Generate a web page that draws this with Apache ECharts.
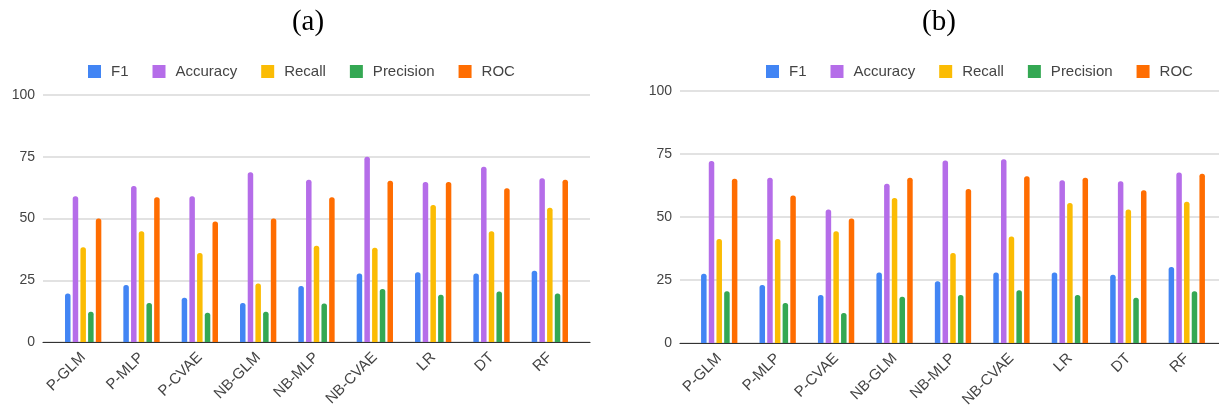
<!DOCTYPE html>
<html>
<head>
<meta charset="utf-8">
<script src="https://cdn.jsdelivr.net/npm/echarts@6/dist/echarts.min.js"></script>
<style>
  html, body { margin: 0; padding: 0; background: #fff; }
  #chart { width: 1219px; height: 410px; }
</style>
</head>
<body>
<div id="chart"></div>
<script>
// 数据
const categories = ['P-GLM', 'P-MLP', 'P-CVAE', 'NB-GLM', 'NB-MLP', 'NB-CVAE', 'LR', 'DT', 'RF']
const seriesNames = ['F1', 'Accuracy', 'Recall', 'Precision', 'ROC']
const yTicks = [0, 25, 50, 75, 100]

// (a)
const f1A = [19.6, 23.1, 17.9, 15.8, 22.7, 27.7, 28.2, 27.7, 28.8]
const accuracyA = [59, 63.2, 59, 68.7, 65.7, 75, 64.8, 71, 66.3]
const recallA = [38.4, 44.8, 36, 23.7, 39, 38.2, 55.5, 44.8, 54.4]
const precisionA = [12.2, 15.8, 11.8, 12.2, 15.6, 21.5, 19.1, 20.4, 19.6]
const rocA = [50, 58.6, 48.8, 50, 58.6, 65.3, 64.8, 62.2, 65.7]

// (b)
const f1B = [27.5, 23, 19, 28, 24.5, 28, 28, 27.1, 30.2]
const accuracyB = [72.2, 65.6, 53, 63.2, 72.4, 72.9, 64.6, 64.2, 67.7]
const recallB = [41.3, 41.3, 44.3, 57.5, 35.7, 42.3, 55.6, 53, 56.1]
const precisionB = [20.5, 15.9, 11.9, 18.4, 19, 20.9, 19, 18, 20.5]
const rocB = [65.2, 58.5, 49.4, 65.6, 61.1, 66.2, 65.6, 60.6, 67.2]

const colors = ['#4285f4', '#b56de9', '#fbbc04', '#34a853', '#ff6d01']
const textColor = '#444'
const font = 'Liberation Sans, Arial, sans-serif'

const yMin = yTicks[0]
const yMax = yTicks[yTicks.length - 1]
const yStep = yTicks[1] - yTicks[0]

// 每个面板：一个宽的网格画网格线和 y 轴，一个窄的网格画柱子
const panels = [
  { title: '(a)', titleX: 303, legendX: 83, top: 95, height: 247,
    frameLeft: 43, frameWidth: 547, barLeft: 54, barWidth: 525,
    data: [f1A, accuracyA, recallA, precisionA, rocA] },
  { title: '(b)', titleX: 934, legendX: 761, top: 91, height: 252,
    frameLeft: 680, frameWidth: 545, barLeft: 690, barWidth: 526,
    data: [f1B, accuracyB, recallB, precisionB, rocB] }
]

const option = {
  animation: false,
  backgroundColor: '#fff',
  color: colors,
  title: [], legend: [], grid: [], xAxis: [], yAxis: [], series: []
}

panels.forEach((p, i) => {
  const frame = i * 2
  const bars = i * 2 + 1

  option.title.push({
    text: p.title, left: p.titleX, top: 3, textAlign: 'center',
    textStyle: { fontFamily: 'Liberation Serif, DejaVu Serif, serif', fontSize: 29, fontWeight: 'normal', color: '#000' }
  })

  option.legend.push({
    data: seriesNames, left: p.legendX, top: 59,
    icon: 'rect', itemWidth: 13, itemHeight: 13, itemGap: 24,
    textStyle: { fontFamily: font, fontSize: 15, color: textColor, padding: [0, 0, 0, 5] }
  })

  option.grid.push(
    { left: p.frameLeft, top: p.top, width: p.frameWidth, height: p.height },
    { left: p.barLeft, top: p.top, width: p.barWidth, height: p.height }
  )

  option.xAxis.push(
    {
      gridIndex: frame, type: 'value', min: 0, max: 1,
      axisLine: { show: true, onZero: true, lineStyle: { color: '#333', width: 1.2 } },
      axisTick: { show: false }, axisLabel: { show: false }, splitLine: { show: false }
    },
    {
      gridIndex: bars, type: 'category', data: categories,
      axisLine: { show: false }, axisTick: { show: false },
      axisLabel: { rotate: 45, margin: 13, fontFamily: font, fontSize: 15, color: textColor, interval: 0 }
    }
  )

  option.yAxis.push(
    {
      gridIndex: frame, type: 'value', min: yMin, max: yMax, interval: yStep,
      axisLine: { show: false }, axisTick: { show: false },
      axisLabel: { margin: 8, fontFamily: font, fontSize: 14, color: textColor },
      splitLine: { lineStyle: { color: '#d9d9d9', width: 1.5 } }
    },
    {
      gridIndex: bars, type: 'value', min: yMin, max: yMax, interval: yStep,
      axisLine: { show: false }, axisTick: { show: false },
      axisLabel: { show: false }, splitLine: { show: false }
    }
  )

  seriesNames.forEach((name, k) => {
    option.series.push({
      name, type: 'bar', xAxisIndex: bars, yAxisIndex: bars,
      data: p.data[k], barWidth: 5.5, barGap: '40%',
      itemStyle: { color: colors[k], borderRadius: [2.5, 2.5, 0, 0] }
    })
  })
})

const chart = echarts.init(document.getElementById('chart'), null, { renderer: 'canvas' })
chart.setOption(option)
</script>
</body>
</html>
